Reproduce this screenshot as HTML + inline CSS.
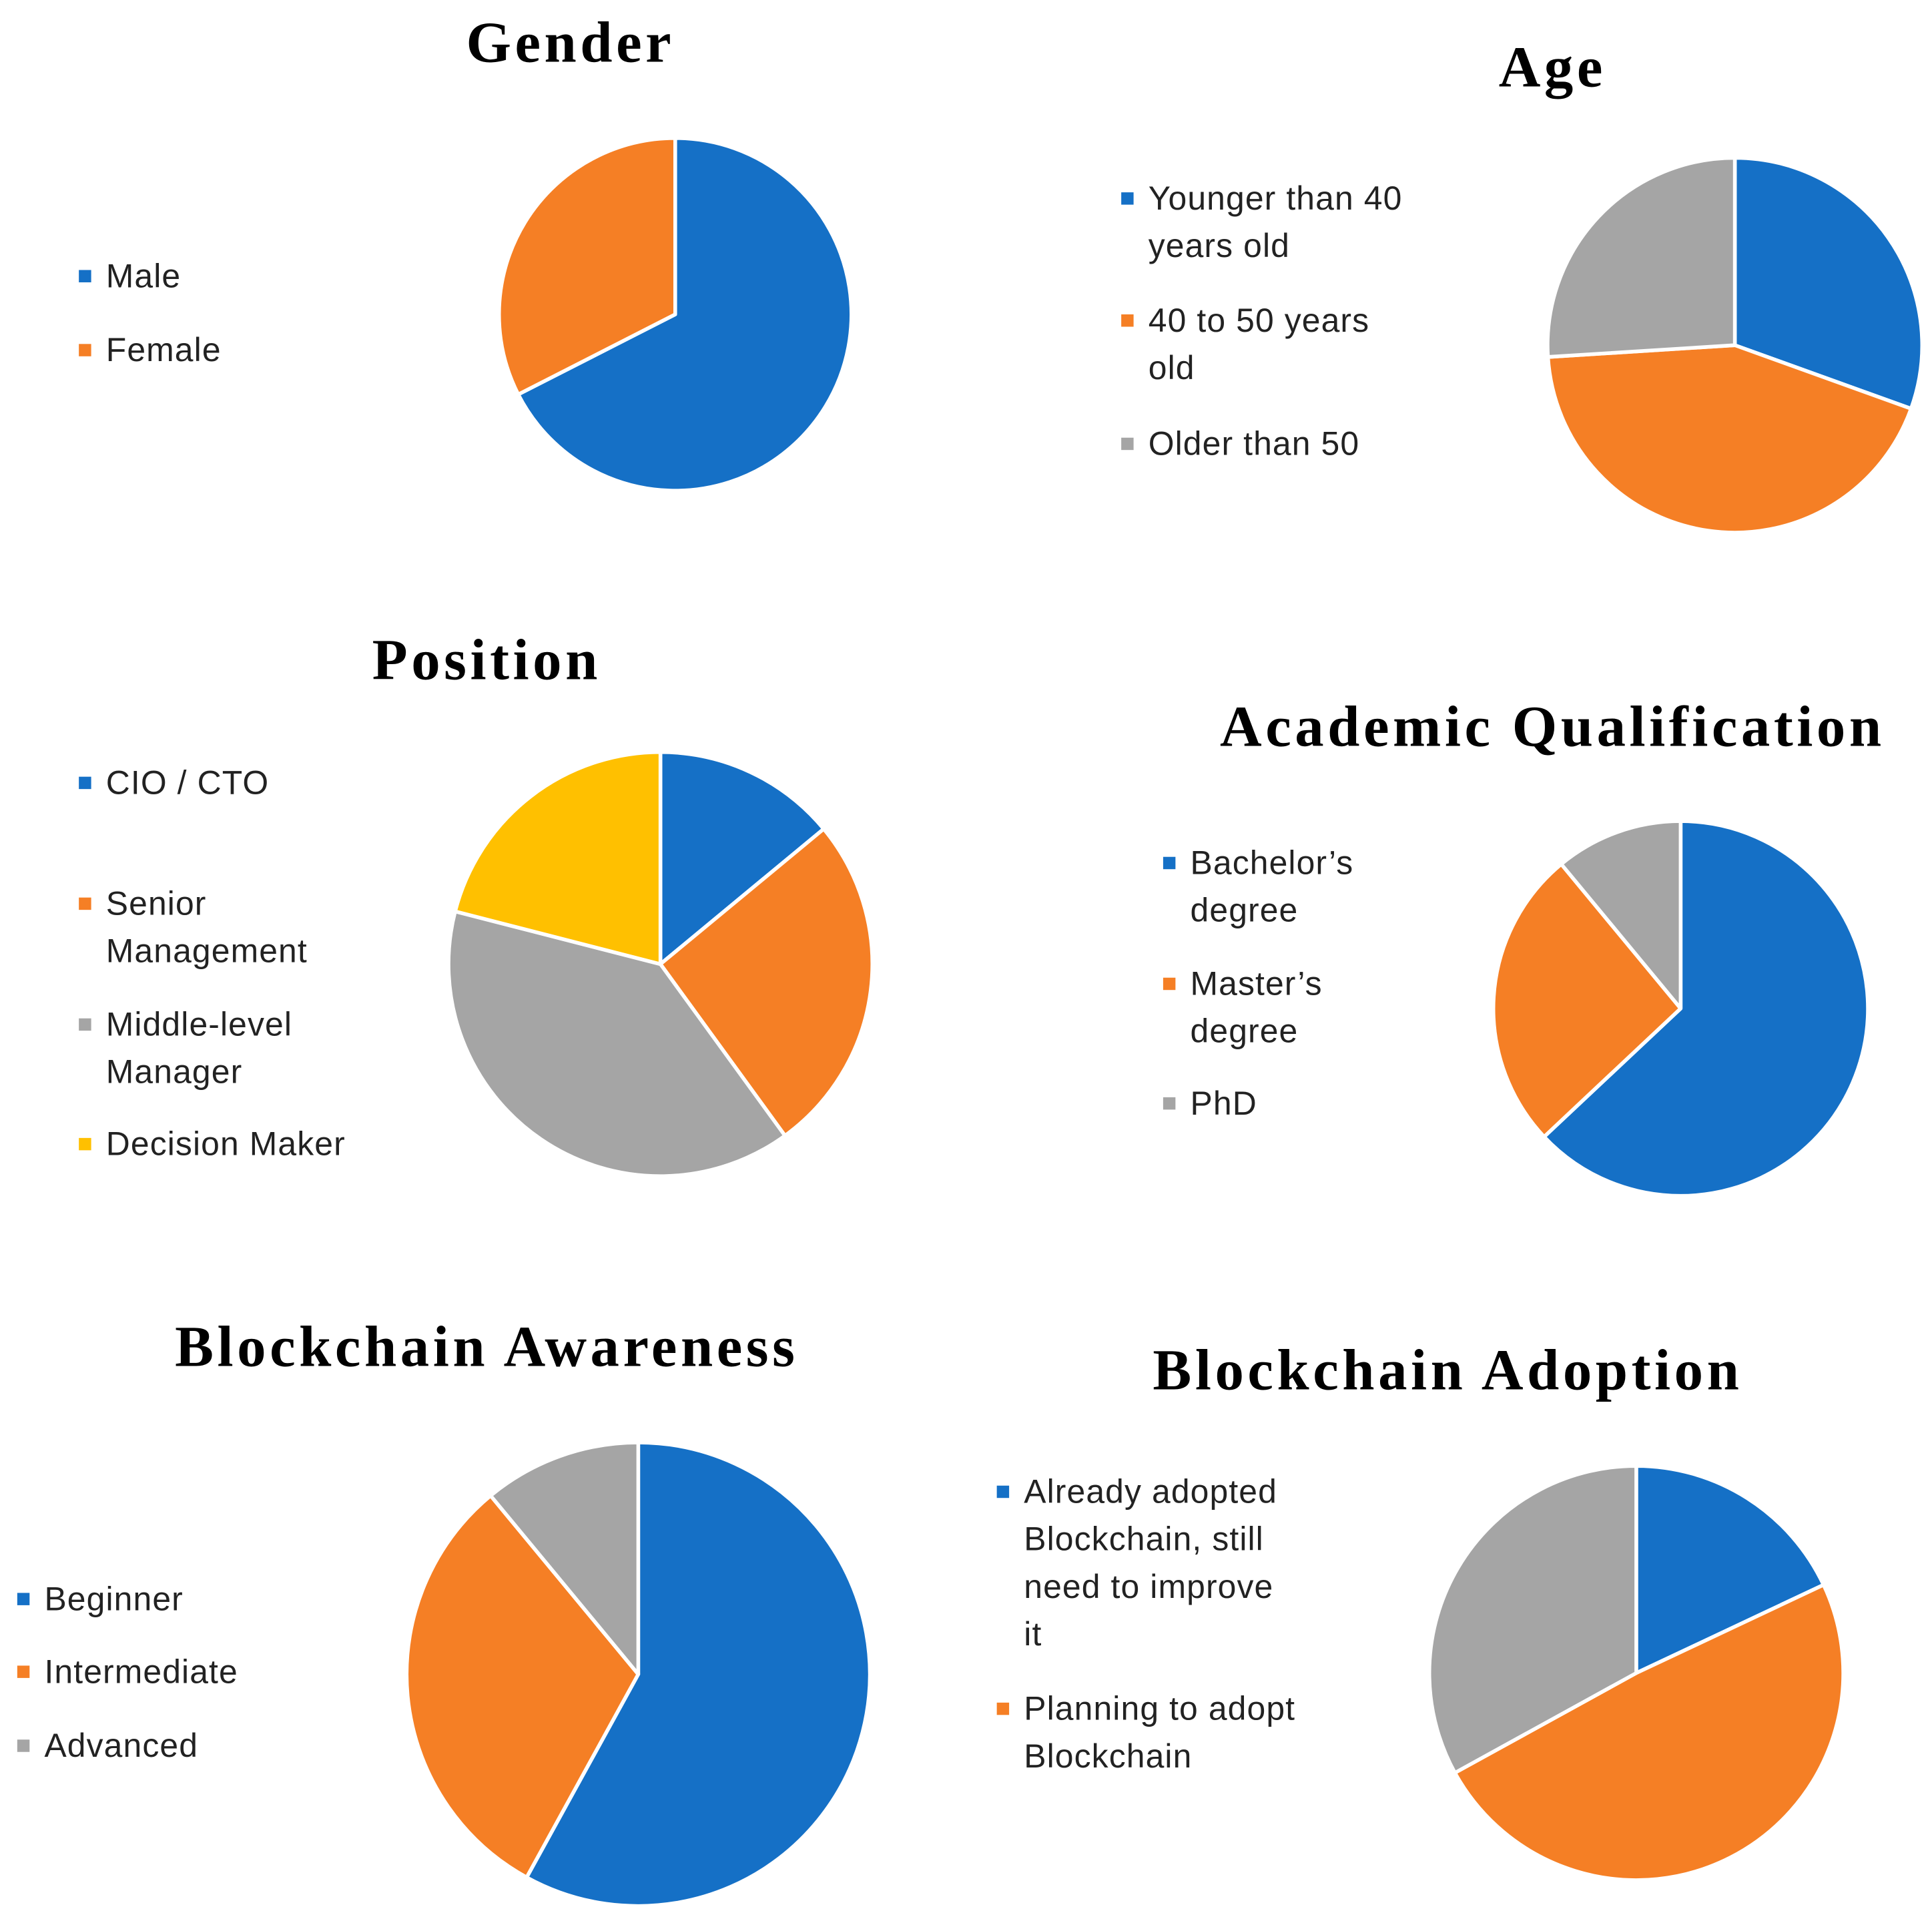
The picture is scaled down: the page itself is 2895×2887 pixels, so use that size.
<!DOCTYPE html>
<html><head><meta charset="utf-8">
<style>
html,body{margin:0;padding:0;background:#fff;}
svg{display:block;}
.title{font-family:"Liberation Serif",serif;font-weight:bold;font-size:47px;fill:#000;text-anchor:middle;letter-spacing:3px;}
.leg{font-family:"Liberation Sans",sans-serif;font-size:27px;fill:#222;letter-spacing:0.6px;}
</style></head>
<body>
<svg id="chart" width="2895" height="2887" viewBox="0 0 1568 1563" preserveAspectRatio="none" xmlns="http://www.w3.org/2000/svg"></svg>
<script>
const colors = ["#1570C6","#F57F25","#A5A5A5","#FFC000"];
const genderLabels = ["Male","Female"];
const genderValues = [67.5,32.5];
const ageLabels = ["Younger than 40 years old","40 to 50 years old","Older than 50"];
const ageValues = [30.5,43.5,26];
const positionLabels = ["CIO / CTO","Senior Management","Middle-level Manager","Decision Maker"];
const positionValues = [14,26,39,21];
const academicLabels = ["Bachelor's degree","Master's degree","PhD"];
const academicValues = [63,26,11];
const awarenessLabels = ["Beginner","Intermediate","Advanced"];
const awarenessValues = [58,31,11];
const adoptionLabels = ["Already adopted Blockchain, still need to improve it","Planning to adopt Blockchain","Not planning"];
const adoptionValues = [18,49,33];

const svg = document.getElementById('chart');
const NS = "http://www.w3.org/2000/svg";
function mk(tag, attrs, parent){const e=document.createElementNS(NS,tag);for(const k in attrs)e.setAttribute(k,attrs[k]);(parent||svg).appendChild(e);return e;}

const charts = [
 {key:"gender",title:"Gender",tx:463,ty:50,cx:548,cy:255,r:143,labels:genderLabels,values:genderValues,
  legX:70,leg:[[["Male"],224],[["Female"],284]]},
 {key:"age",title:"Age",tx:1260,ty:70,cx:1408,cy:280,r:152,labels:ageLabels,values:ageValues,
  legX:916,leg:[[["Younger than 40","years old"],161],[["40 to 50 years","old"],260],[["Older than 50"],360]]},
 {key:"position",title:"Position",tx:395,ty:551,cx:536,cy:782,r:172,labels:positionLabels,values:positionValues,
  legX:70,leg:[[["CIO / CTO"],635],[["Senior","Management"],733],[["Middle-level","Manager"],831],[["Decision Maker"],928]]},
 {key:"academic",title:"Academic Qualification",tx:1260,ty:605,cx:1364,cy:818,r:152,labels:academicLabels,values:academicValues,
  legX:950,leg:[[["Bachelor’s","degree"],700],[["Master’s","degree"],798],[["PhD"],895]]},
 {key:"awareness",title:"Blockchain Awareness",tx:395,ty:1108,cx:518,cy:1358,r:188,labels:awarenessLabels,values:awarenessValues,
  legX:20,leg:[[["Beginner"],1297],[["Intermediate"],1356],[["Advanced"],1416]]},
 {key:"adoption",title:"Blockchain Adoption",tx:1175,ty:1127,cx:1328,cy:1357,r:168,labels:adoptionLabels,values:adoptionValues,
  legX:815,leg:[[["Already adopted","Blockchain, still","need to improve","it"],1210],[["Planning to adopt","Blockchain"],1386]]}
];

charts.forEach(c=>{
  const g = mk('g',{});
  
  
  const t = mk('text',{class:'title',x:c.tx,y:c.ty},g);
  t.textContent = c.title;
  
  
  const total = c.values.reduce((a,b)=>a+b,0);
  let a0 = 0;
  c.values.forEach((v,i)=>{
    const a1 = a0 + v/total*2*Math.PI;
    const x0=c.cx+c.r*Math.sin(a0), y0=c.cy-c.r*Math.cos(a0);
    const x1=c.cx+c.r*Math.sin(a1), y1=c.cy-c.r*Math.cos(a1);
    const large = (a1-a0)>Math.PI?1:0;
    const p = mk('path',{d:`M${c.cx},${c.cy} L${x0},${y0} A${c.r},${c.r} 0 ${large} 1 ${x1},${y1} Z`,fill:colors[i],stroke:'#fff','stroke-width':3,'stroke-linejoin':'round'},g);
    
    
    a0 = a1;
  });
  c.leg.forEach((entry,i)=>{
    const lg = mk('g',{},g);
    
    
    mk('rect',{x:c.legX-6,y:entry[1]-5,width:10,height:10,fill:colors[i]},lg);
    entry[0].forEach((line,j)=>{
      const tt = mk('text',{class:'leg',x:c.legX+16,y:entry[1]+9+j*38.5},lg);
      tt.textContent = line;
    });
  });
});
</script>
</body></html>
